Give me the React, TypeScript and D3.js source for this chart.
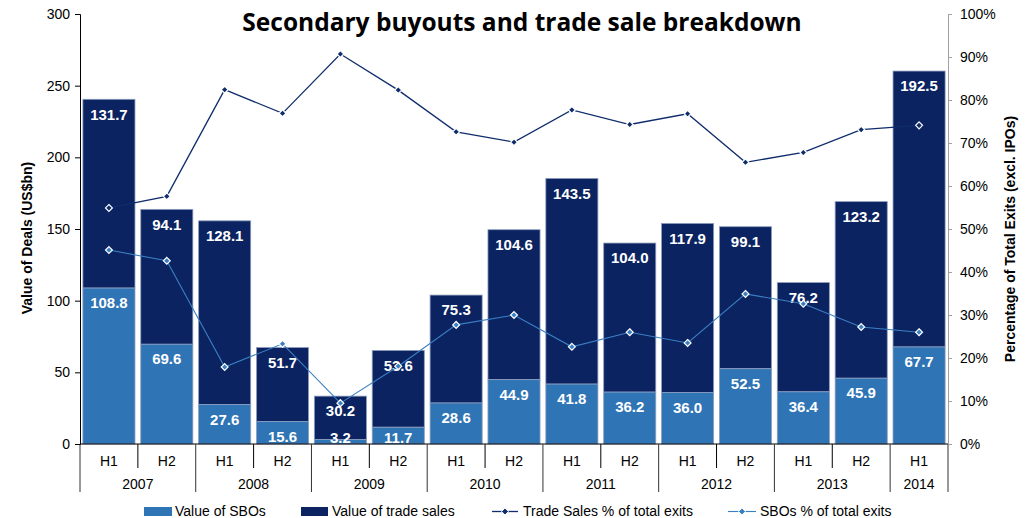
import { useEffect, useMemo, useRef } from 'react';
import * as d3 from 'd3';

// chart data
const periods = ['H1', 'H2', 'H1', 'H2', 'H1', 'H2', 'H1', 'H2', 'H1', 'H2', 'H1', 'H2', 'H1', 'H2', 'H1'];
const years = ['2007', '2007', '2008', '2008', '2009', '2009', '2010', '2010', '2011', '2011', '2012', '2012', '2013', '2013', '2014'];
const sboValues = [108.8, 69.6, 27.6, 15.6, 3.2, 11.7, 28.6, 44.9, 41.8, 36.2, 36.0, 52.5, 36.4, 45.9, 67.7];
const tradeValues = [131.7, 94.1, 128.1, 51.7, 30.2, 53.6, 75.3, 104.6, 143.5, 104.0, 117.9, 99.1, 76.2, 123.2, 192.5];
const tradePct = [54.9, 57.6, 82.4, 76.9, 90.7, 82.3, 72.6, 70.2, 77.7, 74.3, 76.8, 65.5, 67.8, 73.1, 74.1];
const sboPct = [45.1, 42.6, 17.9, 23.3, 9.5, 18.1, 27.7, 30.0, 22.6, 26.0, 23.5, 34.9, 32.6, 27.2, 26.0];
const leftTicks = [0, 50, 100, 150, 200, 250, 300];
const rightTicks = [0, 10, 20, 30, 40, 50, 60, 70, 80, 90, 100];

const W = 1033;
const H = 518;
const M = { top: 14, right: 85, bottom: 74, left: 80 };
const SBO_COLOR = '#2f74b5';
const TRADE_COLOR = '#0b2461';
const TRADE_LINE = '#0f2c6c';
const SBO_LINE = '#3b7fc3';
const FONT = 'Liberation Sans, Arial, sans-serif';

export default function App() {
  const leftAxisRef = useRef<SVGGElement>(null);
  const rightAxisRef = useRef<SVGGElement>(null);

  const innerW = W - M.left - M.right;
  const innerH = H - M.top - M.bottom;
  const idx = periods.map((_, i) => i);

  const x = useMemo(
    () => d3.scaleBand<number>().domain(idx).range([0, innerW]).paddingInner(0.1).paddingOuter(0.05),
    [innerW]
  );
  const y = useMemo(() => d3.scaleLinear().domain([0, 300]).range([innerH, 0]), [innerH]);
  const yPct = useMemo(() => d3.scaleLinear().domain([0, 100]).range([innerH, 0]), [innerH]);

  useEffect(() => {
    const l = d3.select(leftAxisRef.current!);
    l.call(d3.axisLeft(y).tickValues(leftTicks).tickSize(5).tickPadding(5) as any);
    l.selectAll('text').attr('font-size', 14).attr('font-family', FONT).attr('fill', '#000');
    l.selectAll('line,path').attr('stroke', '#000');
    const r = d3.select(rightAxisRef.current!);
    r.call(
      d3.axisRight(yPct).tickValues(rightTicks).tickSize(4).tickPadding(8).tickFormat((d) => `${d}%`) as any
    );
    r.selectAll('text').attr('font-size', 14).attr('font-family', FONT).attr('fill', '#000');
    r.selectAll('line,path').attr('stroke', '#a0a0a0');
  }, [y, yPct]);

  const step = x.step();
  const cx = (i: number) => (x(i) ?? 0) + x.bandwidth() / 2;
  // label sits near the top of its segment, but never too far below the segment base
  const labelY = (top: number, base: number) => Math.min(y(top) + 15, y(base) - 6);

  const tradeLine = d3.line<number>().x((_, i) => cx(i)).y((d) => yPct(d));
  const sboLine = d3.line<number>().x((_, i) => cx(i)).y((d) => yPct(d));
  const diamond = d3.symbol().type(d3.symbolDiamond2).size(30)();

  // group year spans
  const yearGroups: { year: string; start: number; end: number }[] = [];
  years.forEach((yr, i) => {
    const last = yearGroups[yearGroups.length - 1];
    if (last && last.year === yr) last.end = i;
    else yearGroups.push({ year: yr, start: i, end: i });
  });
  const edge = (i: number) => (x(i) ?? 0) - (step * x.paddingInner()) / 2;

  return (
    <svg
      width={W}
      height={H}
      style={{ position: 'absolute', left: 0, top: 0, background: '#fff' }}
      fontFamily={FONT}
    >
      <text
        x={522}
        y={31}
        textAnchor="middle"
        fontFamily="Open Sans, sans-serif"
        fontWeight={700}
        fontSize={24.5}
      >
        Secondary buyouts and trade sale breakdown
      </text>
      <g transform={`translate(${M.left},${M.top})`}>
        {idx.map((i) => (
          <g key={`bar-${i}`}>
            <rect
              x={x(i)}
              y={y(sboValues[i] + tradeValues[i])}
              width={x.bandwidth()}
              height={y(sboValues[i]) - y(sboValues[i] + tradeValues[i])}
              fill={TRADE_COLOR}
              stroke="#8d9dbf"
              strokeWidth={0.8}
            />
            <rect
              x={x(i)}
              y={y(sboValues[i])}
              width={x.bandwidth()}
              height={innerH - y(sboValues[i])}
              fill={SBO_COLOR}
              stroke="#8d9dbf"
              strokeWidth={0.8}
            />
          </g>
        ))}
        <defs>
          <clipPath id="plot-clip">
            <rect x={0} y={-20} width={innerW} height={innerH + 20} />
          </clipPath>
        </defs>
        <g clipPath="url(#plot-clip)">
          {idx.map((i) => (
            <g key={`lab-${i}`} fill="#fff" fontWeight={700} fontSize={15} textAnchor="middle">
              <text x={cx(i)} y={labelY(sboValues[i], 0)} dy="0.35em">
                {sboValues[i].toFixed(1)}
              </text>
              <text x={cx(i)} y={labelY(sboValues[i] + tradeValues[i], sboValues[i])} dy="0.35em">
                {tradeValues[i].toFixed(1)}
              </text>
            </g>
          ))}
        </g>
        <path d={tradeLine(tradePct) ?? ''} fill="none" stroke={TRADE_LINE} strokeWidth={1.3} />
        <path d={sboLine(sboPct) ?? ''} fill="none" stroke={SBO_LINE} strokeWidth={1.1} />
        {tradePct.map((d, i) => (
          <path
            key={`tm-${i}`}
            d={diamond ?? ''}
            transform={`translate(${cx(i)},${yPct(d)})`}
            fill={TRADE_LINE}
            stroke="#fff"
            strokeWidth={1.2}
          />
        ))}
        {sboPct.map((d, i) => (
          <path
            key={`sm-${i}`}
            d={diamond ?? ''}
            transform={`translate(${cx(i)},${yPct(d)})`}
            fill={SBO_LINE}
            stroke="#fff"
            strokeWidth={1.2}
          />
        ))}

        {/* category axis */}
        <line x1={0} x2={innerW} y1={innerH} y2={innerH} stroke="#000" />
        {idx.slice(1).map((i) =>
          years[i] === years[i - 1] ? (
            <line key={`sep-${i}`} x1={edge(i)} x2={edge(i)} y1={innerH} y2={innerH + 24} stroke="#000" />
          ) : null
        )}
        {yearGroups.map((g, k) => (
          <line
            key={`ysep-${k}`}
            x1={k === 0 ? 0 : edge(g.start)}
            x2={k === 0 ? 0 : edge(g.start)}
            y1={innerH}
            y2={innerH + 48}
            stroke="#333"
          />
        ))}
        <line x1={innerW} x2={innerW} y1={innerH} y2={innerH + 48} stroke="#333" />
        {idx.map((i) => (
          <text key={`p-${i}`} x={cx(i)} y={innerH + 17} dy="0.35em" textAnchor="middle" fontSize={14}>
            {periods[i]}
          </text>
        ))}
        {yearGroups.map((g) => (
          <text
            key={`y-${g.year}`}
            x={(cx(g.start) + cx(g.end)) / 2}
            y={innerH + 40}
            dy="0.35em"
            textAnchor="middle"
            fontSize={14}
          >
            {g.year}
          </text>
        ))}

        <g ref={leftAxisRef} />
        <g ref={rightAxisRef} transform={`translate(${innerW},0)`} />
      </g>

      <text
        transform="translate(27,238) rotate(-90)"
        textAnchor="middle"
        dy="0.35em"
        fontWeight={700}
        fontSize={14}
      >
        Value of Deals (US$bn)
      </text>
      <text
        transform="translate(1010,239) rotate(-90)"
        textAnchor="middle"
        dy="0.35em"
        fontWeight={700}
        fontSize={14}
      >
        Percentage of Total Exits (excl. IPOs)
      </text>

      {/* legend */}
      <g fontSize={14}>
        <rect x={144} y={507} width={28} height={9} fill={SBO_COLOR} />
        <text x={175} y={511.5} dy="0.35em">Value of SBOs</text>
        <rect x={301} y={507} width={27} height={9} fill={TRADE_COLOR} />
        <text x={332} y={511.5} dy="0.35em">Value of trade sales</text>
        <line x1={492} x2={518} y1={511.5} y2={511.5} stroke={TRADE_LINE} strokeWidth={1.3} />
        <path d={diamond ?? ''} transform="translate(505,511.5)" fill={TRADE_LINE} stroke="#fff" />
        <text x={523} y={511.5} dy="0.35em">Trade Sales % of total exits</text>
        <line x1={728} x2={756} y1={511.5} y2={511.5} stroke={SBO_LINE} strokeWidth={1.1} />
        <path d={diamond ?? ''} transform="translate(742,511.5)" fill={SBO_LINE} stroke="#fff" />
        <text x={760} y={511.5} dy="0.35em">SBOs % of total exits</text>
      </g>
    </svg>
  );
}
